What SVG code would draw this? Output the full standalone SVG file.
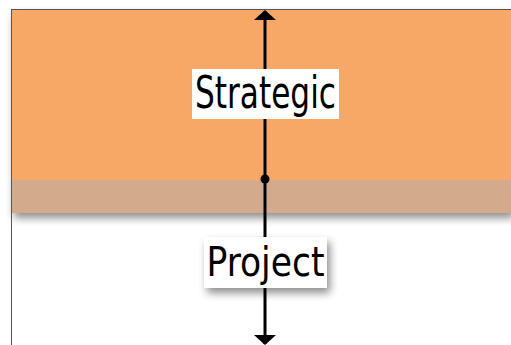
<svg xmlns="http://www.w3.org/2000/svg" width="511" height="345" viewBox="0 0 511 345">
<style>
.lbl{font-family:"DejaVu Sans Condensed","DejaVu Sans",sans-serif;font-stretch:condensed;fill:#000;text-anchor:middle}
.box{fill:#fff}
.conn{stroke:#000;stroke-width:3;fill:none}
</style>
<defs>
<filter id="sh" x="-10%" y="-20%" width="130%" height="160%">
<feGaussianBlur in="SourceAlpha" stdDeviation="4"/>
<feOffset dx="3" dy="5" result="b"/>
<feComponentTransfer><feFuncA type="linear" slope="0.45"/></feComponentTransfer>
<feMerge><feMergeNode/><feMergeNode in="SourceGraphic"/></feMerge>
</filter>
<marker id="ah" viewBox="0 0 10 22" refX="9" refY="11" markerWidth="10" markerHeight="22" markerUnits="userSpaceOnUse" orient="auto">
<path d="M0,0 L10,11 L0,22 Z" fill="#000"/>
</marker>
</defs>
<rect width="511" height="345" fill="#fff"/>
<g id="background">
<rect x="11" y="9.5" width="500" height="203.5" fill="#D4AA8C" filter="url(#sh)"/>
<rect x="11" y="9.5" width="500" height="170.5" fill="#F7A866"/>
<line x1="11" y1="9.5" x2="511" y2="9.5" stroke="#555" stroke-width="1"/>
<line x1="11.5" y1="9.5" x2="11.5" y2="345" stroke="#555" stroke-width="1"/>
</g>
<g id="connectors">
<line class="conn" x1="265" y1="179" x2="265" y2="11" marker-end="url(#ah)"/>
<line class="conn" x1="265" y1="179" x2="265" y2="344" marker-end="url(#ah)"/>
<circle cx="265" cy="179" r="4.5" fill="#000"/>
</g>
<g id="strategic">
<rect class="box" x="192" y="69" width="147" height="50"/>
<text class="lbl" x="265.5" y="108" font-size="44" textLength="141" lengthAdjust="spacingAndGlyphs">Strategic</text>
</g>
<g id="project">
<rect class="box" x="204" y="237" width="123" height="51" filter="url(#sh)"/>
<text class="lbl" x="265.5" y="276" font-size="41" textLength="118" lengthAdjust="spacingAndGlyphs">Project</text>
</g>
</svg>
